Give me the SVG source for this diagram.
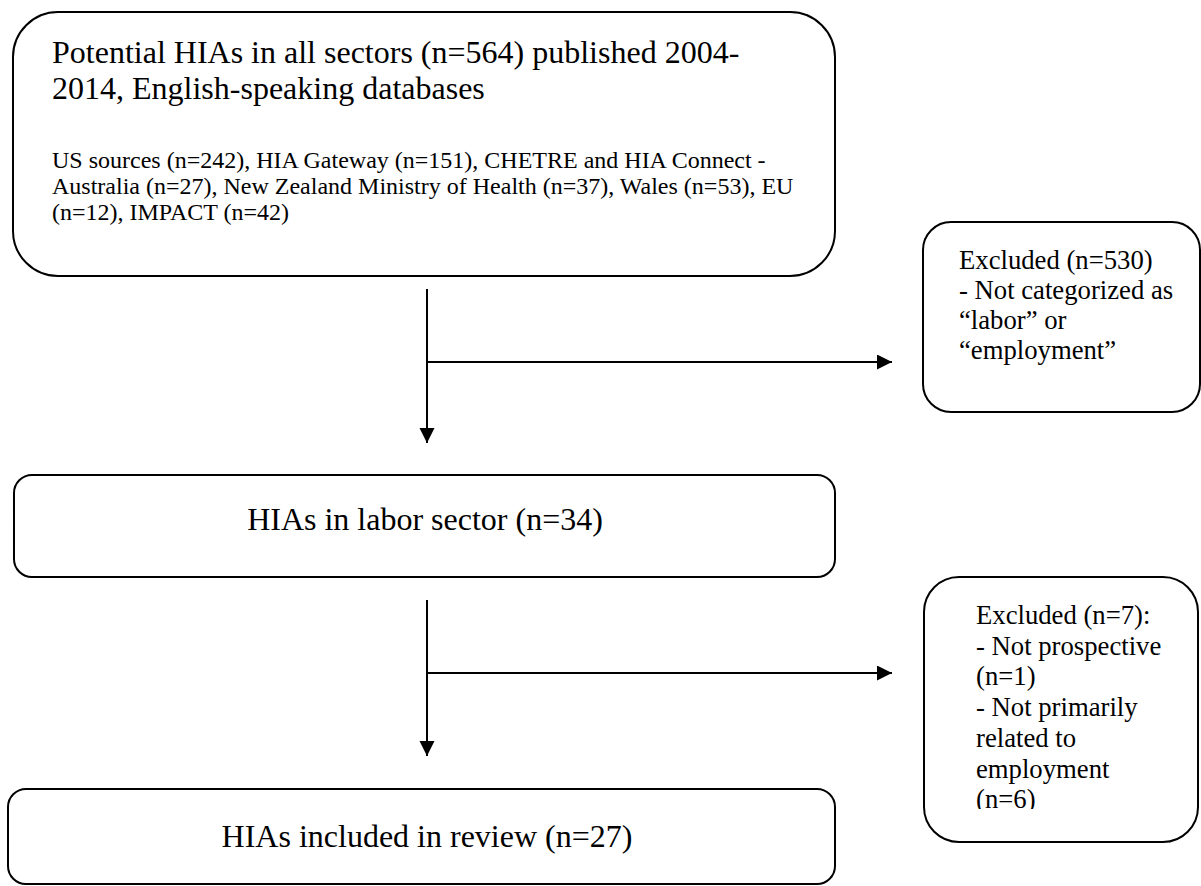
<svg xmlns="http://www.w3.org/2000/svg" width="1201" height="886" viewBox="0 0 1201 886">
<defs>
<style>
.box{fill:#fff;stroke:#000;stroke-width:2}
.t{font-family:"Liberation Serif","Times New Roman",serif;fill:#000}
.big{font-size:32px}
.small{font-size:24px}
.ex{font-size:26.7px}
.ln{stroke:#000;stroke-width:2;fill:none}
</style>
<marker id="ah" markerUnits="userSpaceOnUse" markerWidth="16" markerHeight="16" refX="15" refY="7.5" orient="auto">
<path d="M0,0 L15,7.5 L0,15 z" fill="#000"/>
</marker>
<clipPath id="c2"><rect x="925" y="577" width="276" height="232"/></clipPath>
</defs>
<rect width="1201" height="886" fill="#fff"/>
<g id="n1">
<rect class="box" x="13" y="12" width="822" height="264" rx="45" ry="45"/>
<text class="t big" x="52" y="63">Potential HIAs in all sectors (n=564) published 2004-</text>
<text class="t big" x="52" y="99">2014, English-speaking databases</text>
<text class="t small" x="52" y="168">US sources (n=242), HIA Gateway (n=151), CHETRE and HIA Connect -</text>
<text class="t small" x="52" y="194">Australia (n=27), New Zealand Ministry of Health (n=37), Wales (n=53), EU</text>
<text class="t small" x="52" y="220">(n=12), IMPACT (n=42)</text>
</g>
<g id="n2">
<rect class="box" x="923" y="222" width="277" height="190" rx="28" ry="28"/>
<text class="t ex" x="959" y="269">Excluded (n=530)</text>
<text class="t ex" x="959" y="299">- Not categorized as</text>
<text class="t ex" x="959" y="329">“labor” or</text>
<text class="t ex" x="959" y="359">“employment”</text>
</g>
<g id="n3">
<rect class="box" x="14" y="475" width="821" height="102" rx="18" ry="18"/>
<text class="t big" x="425" y="530" text-anchor="middle">HIAs in labor sector (n=34)</text>
</g>
<g id="n4">
<rect class="box" x="924" y="577" width="274" height="265" rx="35" ry="35"/>
<g clip-path="url(#c2)">
<text class="t ex" x="976" y="624">Excluded (n=7):</text>
<text class="t ex" x="976" y="655">- Not prospective</text>
<text class="t ex" x="976" y="685">(n=1)</text>
<text class="t ex" x="976" y="716">- Not primarily</text>
<text class="t ex" x="976" y="747">related to</text>
<text class="t ex" x="976" y="778">employment</text>
<text class="t ex" x="976" y="808">(n=6)</text>
</g>
</g>
<g id="n5">
<rect class="box" x="8" y="789" width="827" height="95" rx="18" ry="18"/>
<text class="t big" x="427" y="847" text-anchor="middle">HIAs included in review (n=27)</text>
</g>
<g id="connectors">
<line class="ln" x1="427" y1="289" x2="427" y2="443" marker-end="url(#ah)"/>
<line class="ln" x1="427" y1="362" x2="892" y2="362" marker-end="url(#ah)"/>
<line class="ln" x1="427" y1="600" x2="427" y2="756" marker-end="url(#ah)"/>
<line class="ln" x1="427" y1="673" x2="892" y2="673" marker-end="url(#ah)"/>
</g>
</svg>
